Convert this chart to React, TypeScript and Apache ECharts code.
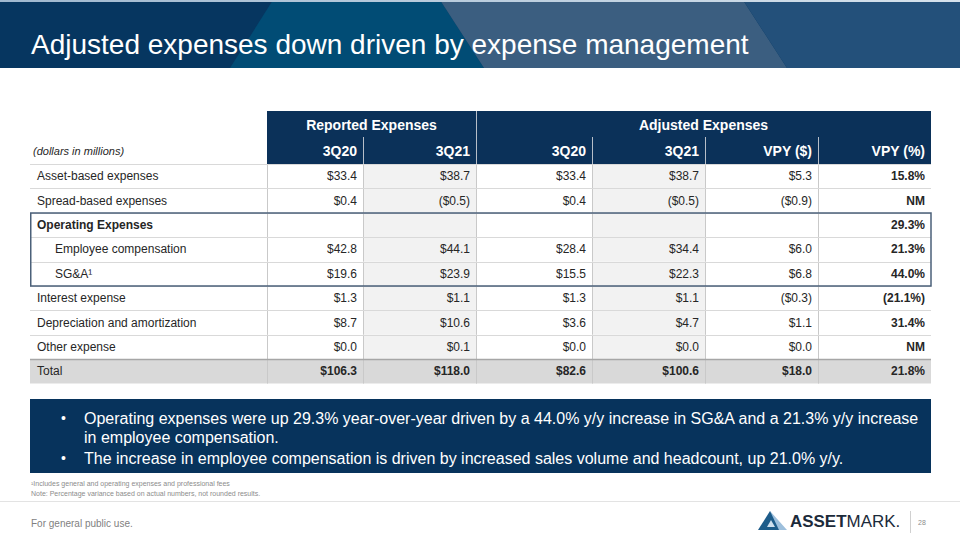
import React, { useEffect, useRef } from "react";
import * as echarts from "echarts";

// ---------- data ----------
const rowLabels = [
  "Asset-based expenses",
  "Spread-based expenses",
  "Operating Expenses",
  "Employee compensation",
  "SG&A¹",
  "Interest expense",
  "Depreciation and amortization",
  "Other expense",
  "Total",
];
const indentedRows = [3, 4];
const boldLabelRows = [2];
const reported3Q20 = [33.4, 0.4, null, 42.8, 19.6, 1.3, 8.7, 0.0, 106.3];
const reported3Q21 = [38.7, -0.5, null, 44.1, 23.9, 1.1, 10.6, 0.1, 118.0];
const adjusted3Q20 = [33.4, 0.4, null, 28.4, 15.5, 1.3, 3.6, 0.0, 82.6];
const adjusted3Q21 = [38.7, -0.5, null, 34.4, 22.3, 1.1, 4.7, 0.0, 100.6];
const vpyDollar = [5.3, -0.9, null, 6.0, 6.8, -0.3, 1.1, 0.0, 18.0];
const vpyPercent = [15.8, null, 29.3, 21.3, 44.0, -21.1, 31.4, null, 21.8];

const groupHeaders = ["Reported Expenses", "Adjusted Expenses"];
const columnHeaders = ["3Q20", "3Q21", "3Q20", "3Q21", "VPY ($)", "VPY (%)"];
const unitsLabel = "(dollars in millions)";
const titleText = "Adjusted expenses down driven by expense management";
const bulletLines = [
  "Operating expenses were up 29.3% year-over-year driven by a 44.0% y/y increase in SG&A and a 21.3% y/y increase",
  "in employee compensation.",
  "The increase in employee compensation is driven by increased sales volume and headcount, up 21.0% y/y.",
];
const bulletStarts = [true, false, true];
const footnotes = [
  "¹Includes general and operating expenses and professional fees",
  "Note: Percentage variance based on actual numbers, not rounded results.",
];
const footerText = "For general public use.";
const pageNumber = "28";

// ---------- layout ----------
const FONT = "'Liberation Sans', Arial, Helvetica, sans-serif";
const TABLE_LEFT = 30;
const TABLE_TOP = 164;
const ROW_H = 24.4;
const COL_EDGES = [0, 237, 333, 446, 562, 675, 788, 901];
const TABLE_W = COL_EDGES[COL_EDGES.length - 1];
const NAVY = "#0b3159";

const fmtDollar = (v: number | null) =>
  v == null ? "" : v < 0 ? `($${Math.abs(v).toFixed(1)})` : `$${v.toFixed(1)}`;
const fmtPct = (v: number | null) =>
  v == null ? "NM" : v < 0 ? `(${Math.abs(v).toFixed(1)}%)` : `${v.toFixed(1)}%`;

const columns = [
  reported3Q20.map(fmtDollar),
  reported3Q21.map(fmtDollar),
  adjusted3Q20.map(fmtDollar),
  adjusted3Q21.map(fmtDollar),
  vpyDollar.map(fmtDollar),
  vpyPercent.map(fmtPct),
];

function renderRow(params: any, api: any) {
  const i = api.value(1);
  const c = api.coord([0, i]);
  const h = api.size([0, 1])[1];
  const yc = c[1];
  const top = yc - h / 2;
  const xs = COL_EDGES.map((e) => api.coord([e, i])[0]);
  const isTotal = i === rowLabels.length - 1;
  const children: any[] = [];
  if (isTotal) {
    children.push({
      type: "rect",
      shape: { x: xs[0], y: top, width: xs[7] - xs[0], height: h },
      style: { fill: "#d9d9d9" },
    });
  } else {
    [2, 4].forEach((k) =>
      children.push({
        type: "rect",
        shape: { x: xs[k], y: top, width: xs[k + 1] - xs[k], height: h },
        style: { fill: "#f2f2f2" },
      })
    );
  }
  for (let k = 1; k <= 6; k++) {
    children.push({
      type: "line",
      shape: { x1: xs[k] + 0.5, y1: top, x2: xs[k] + 0.5, y2: top + h },
      style: { stroke: "#c9c9c9", lineWidth: 1 },
    });
  }
  children.push({
    type: "line",
    shape: { x1: xs[0], y1: Math.round(top) + 0.5, x2: xs[7], y2: Math.round(top) + 0.5 },
    style: { stroke: isTotal ? "#a6a6a6" : "#d9d9d9", lineWidth: isTotal ? 1.5 : 1 },
  });
  const indent = indentedRows.includes(i) ? 25 : 7;
  children.push({
    type: "text",
    style: {
      text: rowLabels[i],
      x: xs[0] + indent,
      y: yc,
      fill: "#262626",
      fontSize: 12,
      fontFamily: FONT,
      fontWeight: boldLabelRows.includes(i) ? "bold" : "normal",
      align: "left",
      verticalAlign: "middle",
    },
  });
  columns.forEach((col, k) => {
    children.push({
      type: "text",
      style: {
        text: col[i],
        x: xs[k + 2] - 6,
        y: yc,
        fill: "#262626",
        fontSize: 12,
        fontFamily: FONT,
        fontWeight: isTotal || k === 5 ? "bold" : "normal",
        align: "right",
        verticalAlign: "middle",
      },
    });
  });
  return { type: "group", children };
}

function renderBox(params: any, api: any) {
  const i = api.value(1);
  const c = api.coord([0, i]);
  const h = api.size([0, 1])[1];
  const x1 = api.coord([TABLE_W, i])[0];
  const top = c[1] - h / 2;
  return {
    type: "rect",
    shape: { x: c[0] + 0.75, y: Math.round(top), width: x1 - c[0] - 0.75, height: Math.round(h * 3) },
    style: { fill: "none", stroke: "#4b6079", lineWidth: 1.5 },
  };
}

function buildGraphics() {
  const g: any[] = [];
  // banner
  g.push({ type: "rect", shape: { x: 0, y: 0, width: 960, height: 68 }, style: { fill: "#063660" } });
  g.push({ type: "polygon", shape: { points: [[273, 0], [440, 0], [484, 68], [230, 68]] }, style: { fill: "#014c75" } });
  g.push({ type: "polygon", shape: { points: [[440, 0], [743, 0], [787, 68], [484, 68]] }, style: { fill: "#3b5e80" } });
  g.push({ type: "polygon", shape: { points: [[743, 0], [960, 0], [960, 68], [787, 68]] }, style: { fill: "#23507a" } });
  g.push({
    type: "rect",
    shape: { x: 0, y: 0, width: 960, height: 2 },
    style: {
      fill: new echarts.graphic.LinearGradient(0, 0, 1, 0, [
        { offset: 0, color: "#9fb8cf" },
        { offset: 1, color: "#d6e2ec" },
      ]),
    },
  });
  g.push({
    type: "text",
    style: {
      text: titleText,
      x: 31,
      y: 44,
      fill: "#ffffff",
      fontSize: 28,
      fontFamily: FONT,
      verticalAlign: "middle",
    },
  });

  // table header
  const xAt = (k: number) => TABLE_LEFT + COL_EDGES[k];
  g.push({
    type: "rect",
    shape: { x: xAt(1), y: 111, width: xAt(7) - xAt(1), height: TABLE_TOP - 111 },
    style: { fill: NAVY },
  });
  const groupSpans = [
    [1, 3],
    [3, 7],
  ];
  groupSpans.forEach((sp, j) =>
    g.push({
      type: "text",
      style: {
        text: groupHeaders[j],
        x: (xAt(sp[0]) + xAt(sp[1])) / 2,
        y: 125,
        fill: "#ffffff",
        fontSize: 14,
        fontWeight: "bold",
        fontFamily: FONT,
        align: "center",
        verticalAlign: "middle",
      },
    })
  );
  columnHeaders.forEach((t, k) =>
    g.push({
      type: "text",
      style: {
        text: t,
        x: xAt(k + 2) - 6,
        y: 151,
        fill: "#ffffff",
        fontSize: 14,
        fontWeight: "bold",
        fontFamily: FONT,
        align: "right",
        verticalAlign: "middle",
      },
    })
  );
  [2, 3, 4, 5, 6].forEach((k) =>
    g.push({
      type: "line",
      shape: { x1: xAt(k) + 0.5, y1: k === 3 ? 111 : 137, x2: xAt(k) + 0.5, y2: TABLE_TOP },
      style: { stroke: "#b7bec8", lineWidth: 1 },
    })
  );
  g.push({
    type: "text",
    style: {
      text: unitsLabel,
      x: 33,
      y: 151,
      fill: "#262626",
      fontSize: 11,
      fontStyle: "italic",
      fontFamily: FONT,
      verticalAlign: "middle",
    },
  });

  // commentary box
  g.push({ type: "rect", shape: { x: 30, y: 399, width: 901, height: 74 }, style: { fill: "#07335c" } });
  const lineYs = [418, 437, 458];
  bulletLines.forEach((t, j) => {
    if (bulletStarts[j])
      g.push({
        type: "text",
        style: { text: "•", x: 61, y: lineYs[j], fill: "#ffffff", fontSize: 14, fontFamily: FONT, verticalAlign: "middle" },
      });
    g.push({
      type: "text",
      style: { text: t, x: 84, y: lineYs[j], fill: "#ffffff", fontSize: 16, fontFamily: FONT, verticalAlign: "middle" },
    });
  });

  // footnotes
  footnotes.forEach((t, j) =>
    g.push({
      type: "text",
      style: { text: t, x: 31, y: 483 + j * 10, fill: "#8c8c8c", fontSize: 7, fontFamily: FONT, verticalAlign: "middle" },
    })
  );
  g.push({ type: "line", shape: { x1: 0, y1: 501.5, x2: 960, y2: 501.5 }, style: { stroke: "#e3e3e3", lineWidth: 1 } });
  g.push({
    type: "text",
    style: { text: footerText, x: 31, y: 523, fill: "#7f7f7f", fontSize: 10, fontFamily: FONT, verticalAlign: "middle" },
  });

  // logo
  g.push({ type: "polygon", shape: { points: [[770, 511], [787, 530], [774, 530]] }, style: { fill: "#9dbfdc" } });
  g.push({ type: "polygon", shape: { points: [[770, 511], [758, 530], [779, 530]] }, style: { fill: "#1d5c8a" } });
  g.push({ type: "polygon", shape: { points: [[771, 520], [767, 527], [775, 527]] }, style: { fill: "#cfe0ee" } });
  g.push({
    type: "text",
    x: 790,
    y: 521,
    scaleX: 1.06,
    style: {
      text: "{a|ASSET}{b|MARK.}",
      x: 0,
      y: 0,
      verticalAlign: "middle",
      rich: {
        a: { fontSize: 16, fontWeight: "bold", fontFamily: FONT, fill: "#1b2a3a" },
        b: { fontSize: 16, fontFamily: FONT, fill: "#1b2a3a" },
      },
    },
  });
  g.push({ type: "line", shape: { x1: 910.5, y1: 511, x2: 910.5, y2: 533 }, style: { stroke: "#d0d0d0", lineWidth: 1 } });
  g.push({
    type: "text",
    style: { text: pageNumber, x: 918, y: 522, fill: "#8c8c8c", fontSize: 7, fontFamily: FONT, verticalAlign: "middle" },
  });
  return g;
}

export default function App() {
  const ref = useRef<HTMLDivElement>(null);
  useEffect(() => {
    if (!ref.current) return;
    const chart = echarts.init(ref.current, null, { renderer: "svg" });
    chart.setOption({
      animation: false,
      backgroundColor: "#ffffff",
      grid: { left: TABLE_LEFT, top: TABLE_TOP, width: TABLE_W, height: ROW_H * rowLabels.length },
      xAxis: { type: "value", min: 0, max: TABLE_W, show: false },
      yAxis: { type: "category", data: rowLabels, inverse: true, show: false },
      series: [
        {
          type: "custom",
          renderItem: renderRow,
          encode: { x: 0, y: 1 },
          data: rowLabels.map((_, i) => [0, i]),
          silent: true,
          z: 2,
        },
        {
          type: "custom",
          renderItem: renderBox,
          encode: { x: 0, y: 1 },
          data: [[0, 2]],
          silent: true,
          z: 3,
        },
      ],
      graphic: { elements: buildGraphics() },
    });
    return () => chart.dispose();
  }, []);
  return (
    <div
      ref={ref}
      style={{ position: "fixed", left: 0, top: 0, width: 960, height: 540, background: "#fff" }}
    />
  );
}
